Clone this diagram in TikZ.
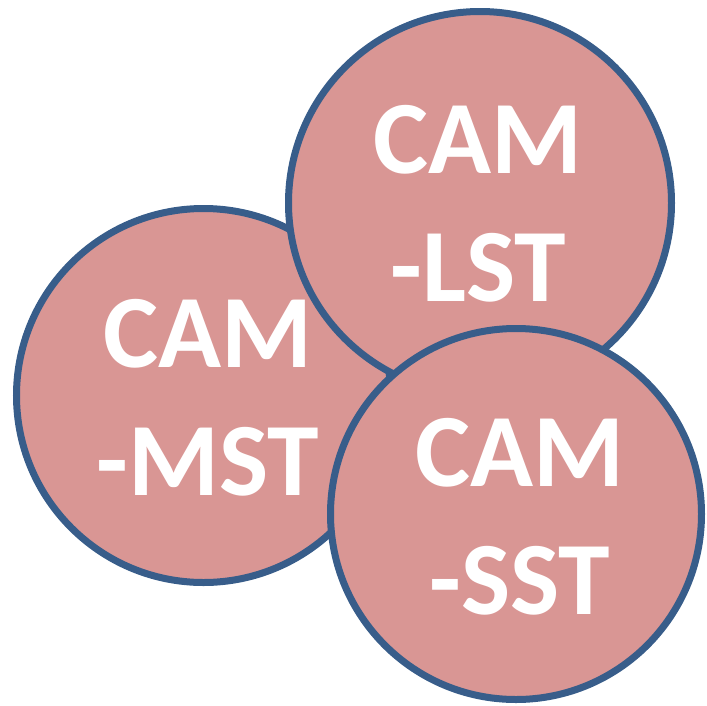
\documentclass[tikz,border=0pt]{standalone}
\usepackage{fontspec}
\setmainfont{Carlito}
\definecolor{ballfill}{HTML}{D99694}
\definecolor{ballline}{HTML}{385D8A}
\tikzset{
  ball/.style={circle, draw=ballline, fill=ballfill, line width=7pt, inner sep=0pt},
  balltext/.style={text=white, font=\bfseries\fontsize{104}{128}\selectfont, align=center, inner sep=0pt}
}
\begin{document}
\begin{tikzpicture}[x=1pt,y=-1pt]
\useasboundingbox (0,0) rectangle (707,705);
\node[ball, minimum size=374pt] (mst) at (203.5,395.5) {};
\node[balltext] (mstt) at (208,398) {CAM\\-MST};
\node[ball, minimum size=383pt] (lst) at (480,203) {};
\node[balltext] (lstt) at (478,204) {CAM\\-LST};
\node[ball, minimum size=371pt] (sst) at (516,514) {};
\node[balltext] (sstt) at (520,517) {CAM\\-SST};
\end{tikzpicture}
\end{document}
